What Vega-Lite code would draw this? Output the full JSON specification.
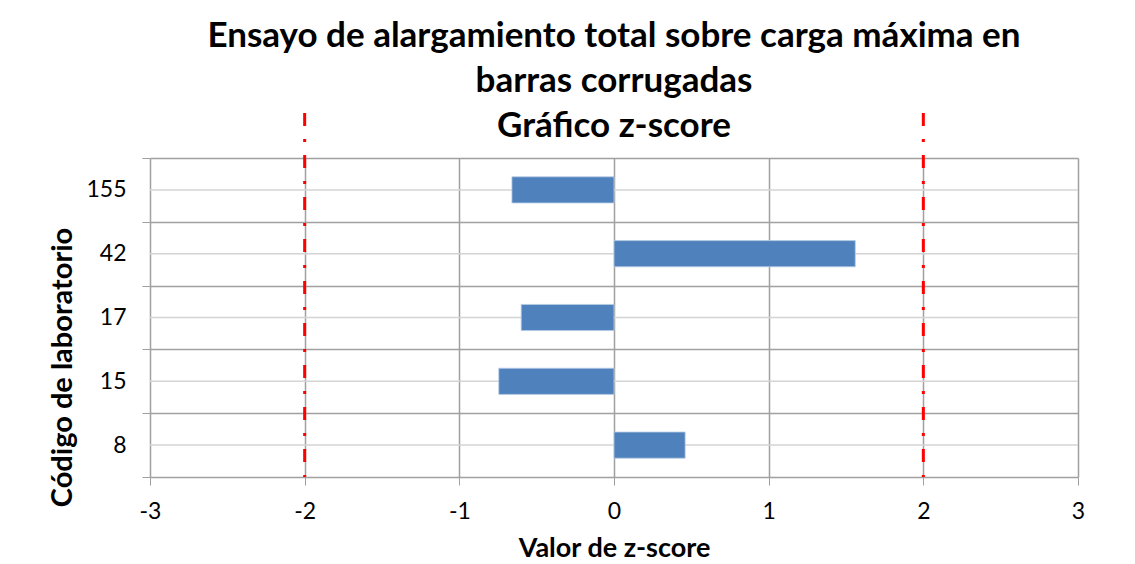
{
  "$schema": "https://vega.github.io/schema/vega-lite/v6.json",
  "width": 928,
  "height": 319,
  "autosize": {"type": "none"},
  "padding": {"left": 150, "top": 158, "right": 57, "bottom": 87},
  "background": "white",
  "config": {
    "view": {"stroke": null},
    "font": "Lato"
  },
  "title": {
    "text": ["Ensayo de alargamiento total sobre carga máxima en", "barras corrugadas", "Gráfico z-score"],
    "font": "Lato",
    "fontSize": 35,
    "fontWeight": "bold",
    "color": "#000000",
    "lineHeight": 45,
    "anchor": "middle",
    "offset": -32
  },
  "datasets": {
    "labs": [
      {"lab": "155", "z": -0.66},
      {"lab": "42", "z": 1.56},
      {"lab": "17", "z": -0.60},
      {"lab": "15", "z": -0.745},
      {"lab": "8", "z": 0.46}
    ],
    "limits": [
      {"limit": -2},
      {"limit": 2}
    ]
  },
  "layer": [
    {
      "data": {"name": "labs"},
      "mark": {"type": "rule", "color": "#d4d4d4", "strokeWidth": 1.5},
      "encoding": {
        "y": {
          "field": "lab",
          "type": "nominal",
          "sort": ["155", "42", "17", "15", "8"],
          "scale": {"paddingInner": 0, "paddingOuter": 0},
          "axis": {
            "title": "Código de laboratorio",
            "titleFont": "Lato",
            "titleFontSize": 29,
            "titleFontWeight": "bold",
            "titleColor": "#000000",
            "titleY": 209,
            "titlePadding": 8,
            "labelFont": "Lato",
            "labelFontSize": 23,
            "labelColor": "#000000",
            "labelPadding": 16,
            "tickBand": "extent",
            "tickSize": 8,
            "tickColor": "#a0a0a0",
            "grid": true,
            "gridColor": "#a0a0a0",
            "gridWidth": 1.5,
            "domain": false
          }
        }
      }
    },
    {
      "data": {"name": "labs"},
      "mark": {"type": "bar", "color": "#4F81BD", "height": {"band": 0.41}, "stroke": "#b9cde5", "strokeWidth": 0.8},
      "encoding": {
        "y": {"field": "lab", "type": "nominal", "sort": ["155", "42", "17", "15", "8"]},
        "x": {
          "field": "z",
          "type": "quantitative",
          "scale": {"domain": [-3, 3], "nice": false, "zero": false},
          "axis": {
            "title": "Valor de z-score",
            "titleFont": "Lato",
            "titleFontSize": 27,
            "titleFontWeight": "bold",
            "titleColor": "#000000",
            "titlePadding": 12,
            "values": [-3, -2, -1, 0, 1, 2, 3],
            "labelExpr": "'' + datum.value",
            "labelFlush": false,
            "labelFont": "Lato",
            "labelFontSize": 23,
            "labelColor": "#000000",
            "labelPadding": 15,
            "tickSize": 8,
            "tickColor": "#a0a0a0",
            "grid": true,
            "gridColor": "#a0a0a0",
            "gridWidth": 1.5,
            "domain": false
          }
        }
      }
    },
    {
      "data": {"name": "limits"},
      "mark": {"type": "rule", "color": "#FF0000", "strokeWidth": 3, "strokeDash": [13, 13, 3, 13], "yOffset": -45, "y2Offset": 28, "clip": false},
      "encoding": {
        "x": {"field": "limit", "type": "quantitative"}
      }
    }
  ]
}
